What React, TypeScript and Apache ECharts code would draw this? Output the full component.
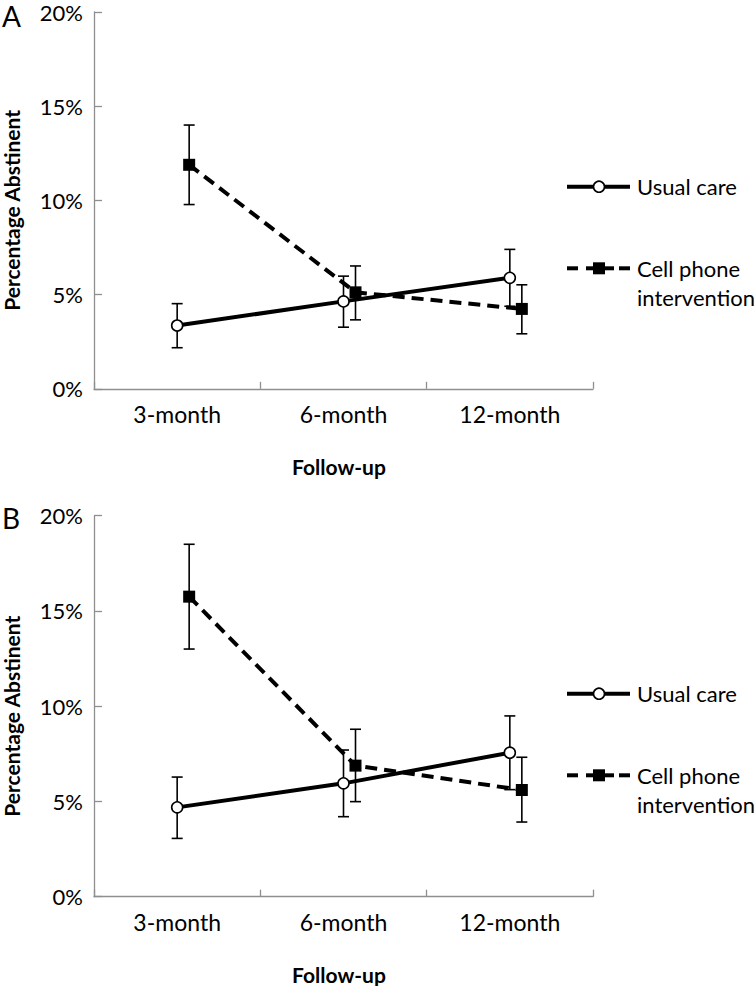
import React, { useEffect, useRef } from "react";
import * as echarts from "echarts";

const categories = ["3-month", "6-month", "12-month"];
const yTicks = [0, 5, 10, 15, 20];

// Panel A
const usualA = [3.36, 4.64, 5.89];
const usualALow = [2.18, 3.27, 4.38];
const usualAHigh = [4.52, 5.98, 7.4];
const cellA = [11.89, 5.12, 4.24];
const cellALow = [9.78, 3.66, 2.92];
const cellAHigh = [14.0, 6.52, 5.52];

// Panel B
const usualB = [4.69, 5.95, 7.56];
const usualBLow = [3.06, 4.2, 5.62];
const usualBHigh = [6.28, 7.7, 9.49];
const cellB = [15.75, 6.88, 5.6];
const cellBLow = [13.0, 4.99, 3.92];
const cellBHigh = [18.5, 8.79, 7.32];

const seriesNames = ["Usual care", "Cell phone", "intervention"];
const yTitle = "Percentage Abstinent";
const xTitle = "Follow-up";
const panelLabels = ["A", "B"];

const FONT = "Lato, 'Open Sans', sans-serif";
const AXIS_COLOR = "#8f8f8f";

export default function App() {
  const ref = useRef<HTMLDivElement>(null);

  useEffect(() => {
    document.body.style.margin = "0";
    if (!ref.current) return;
    const chart = echarts.init(ref.current, null, { renderer: "svg" });

    const panels = [
      { top: 12, height: 376.8, usual: usualA, uLo: usualALow, uHi: usualAHigh, cell: cellA, cLo: cellALow, cHi: cellAHigh },
      { top: 515.7, height: 381, usual: usualB, uLo: usualBLow, uHi: usualBHigh, cell: cellB, cLo: cellBLow, cHi: cellBHigh },
    ];
    const LEFT = 94;
    const RIGHT = 163;
    const SHIFT = 12;

    const grids: any[] = [];
    const xAxes: any[] = [];
    const yAxes: any[] = [];
    const series: any[] = [];
    const graphics: any[] = [];

    const errRender = (params: any, api: any) => {
      const x = api.value(0);
      const lo = api.coord([x, api.value(1)]);
      const hi = api.coord([x, api.value(2)]);
      const cap = 5.5;
      const style = { stroke: "#000", lineWidth: 1.6 };
      return {
        type: "group",
        children: [
          { type: "line", shape: { x1: lo[0], y1: lo[1], x2: hi[0], y2: hi[1] }, style },
          { type: "line", shape: { x1: lo[0] - cap, y1: lo[1], x2: lo[0] + cap, y2: lo[1] }, style },
          { type: "line", shape: { x1: hi[0] - cap, y1: hi[1], x2: hi[0] + cap, y2: hi[1] }, style },
        ],
      };
    };

    panels.forEach((p, pi) => {
      const g0 = pi * 2;
      const g1 = pi * 2 + 1;
      grids.push({ left: LEFT, right: RIGHT, top: p.top, height: p.height });
      grids.push({ left: LEFT + SHIFT, right: RIGHT - SHIFT, top: p.top, height: p.height });

      xAxes.push({
        type: "category",
        gridIndex: g0,
        data: categories,
        boundaryGap: true,
        axisLine: { show: true, lineStyle: { color: AXIS_COLOR, width: 1.3 } },
        axisTick: { show: true, inside: true, length: 7, alignWithLabel: false, lineStyle: { color: AXIS_COLOR, width: 1.3 } },
        axisLabel: { color: "#000", fontSize: 23, fontFamily: FONT, margin: 14 },
        splitLine: { show: false },
      });
      xAxes.push({
        type: "category",
        gridIndex: g1,
        data: categories,
        boundaryGap: true,
        show: false,
      });
      yAxes.push({
        type: "value",
        gridIndex: g0,
        min: 0,
        max: 20,
        interval: 5,
        axisLine: { show: true, lineStyle: { color: AXIS_COLOR, width: 1.3 } },
        axisTick: { show: true, inside: true, length: 8, lineStyle: { color: AXIS_COLOR, width: 1.3 } },
        axisLabel: { color: "#000", fontSize: 22, lineHeight: 18, fontFamily: FONT, margin: 11, formatter: (v: number) => (yTicks.includes(v) ? v + "%" : "") },
        splitLine: { show: false },
      });
      yAxes.push({
        type: "value",
        gridIndex: g1,
        min: 0,
        max: 20,
        interval: 5,
        show: false,
        splitLine: { show: false },
      });

      // error bars
      series.push({
        type: "custom",
        xAxisIndex: g0,
        yAxisIndex: g0,
        z: 1,
        renderItem: errRender,
        data: categories.map((_, i) => [i, p.uLo[i], p.uHi[i]]),
      });
      series.push({
        type: "custom",
        xAxisIndex: g1,
        yAxisIndex: g1,
        z: 1,
        renderItem: errRender,
        data: categories.map((_, i) => [i, p.cLo[i], p.cHi[i]]),
      });
      // lines
      series.push({
        type: "line",
        name: seriesNames[1],
        xAxisIndex: g1,
        yAxisIndex: g1,
        z: 3,
        data: p.cell,
        symbol: "rect",
        symbolSize: 12,
        showAllSymbol: true,
        lineStyle: { color: "#000", width: 4, type: [12, 7] },
        itemStyle: { color: "#000", borderColor: "#000", borderWidth: 0 },
      });
      series.push({
        type: "line",
        name: seriesNames[0],
        xAxisIndex: g0,
        yAxisIndex: g0,
        z: 4,
        data: p.usual,
        symbol: "circle",
        symbolSize: 11,
        showAllSymbol: true,
        lineStyle: { color: "#000", width: 4 },
        itemStyle: { color: "#fff", borderColor: "#000", borderWidth: 1.6 },
      });

      // legend
      const off = pi === 0 ? 0 : 507;
      const yU = 186.7 + off;
      const yC = 268.3 + off;
      graphics.push(
        { type: "line", shape: { x1: 567, y1: yU, x2: 630, y2: yU }, style: { stroke: "#000", lineWidth: 4 } },
        { type: "circle", shape: { cx: 599, cy: yU, r: 5.5 }, style: { fill: "#fff", stroke: "#000", lineWidth: 1.6 } },
        { type: "text", x: 637, y: yU, style: { text: seriesNames[0], font: `22px ${FONT}`, fill: "#000", verticalAlign: "middle", align: "left" } },
        { type: "line", shape: { x1: 567, y1: yC, x2: 578, y2: yC }, style: { stroke: "#000", lineWidth: 4 } },
        { type: "line", shape: { x1: 586, y1: yC, x2: 614, y2: yC }, style: { stroke: "#000", lineWidth: 4 } },
        { type: "rect", shape: { x: 593, y: yC - 6, width: 12, height: 12 }, style: { fill: "#000" } },
        { type: "line", shape: { x1: 619, y1: yC, x2: 630, y2: yC }, style: { stroke: "#000", lineWidth: 4 } },
        { type: "text", x: 637, y: yC, style: { text: seriesNames[1], font: `22px ${FONT}`, fill: "#000", verticalAlign: "middle", align: "left" } },
        { type: "text", x: 637, y: yC + 29.5, style: { text: seriesNames[2], font: `22px ${FONT}`, fill: "#000", verticalAlign: "middle", align: "left" } },
      );

      // titles
      const axisMid = p.top + p.height / 2;
      graphics.push(
        { type: "text", x: 11, y: axisMid + 10, rotation: Math.PI / 2, style: { text: yTitle, font: `bold 21px ${FONT}`, fill: "#000", align: "center", verticalAlign: "middle" } },
        { type: "text", x: 339, y: p.top + p.height + 78, style: { text: xTitle, font: `bold 21px ${FONT}`, fill: "#000", align: "center", verticalAlign: "middle" } },
        { type: "text", x: 2, y: pi === 0 ? 16 : 518, style: { text: panelLabels[pi], font: `28px ${FONT}`, fill: "#000", align: "left", verticalAlign: "middle" } },
      );
    });

    chart.setOption({
      animation: false,
      backgroundColor: "#fff",
      grid: grids,
      xAxis: xAxes,
      yAxis: yAxes,
      series,
      graphic: graphics,
    });

    return () => chart.dispose();
  }, []);

  return <div ref={ref} style={{ width: 756, height: 986 }} />;
}
